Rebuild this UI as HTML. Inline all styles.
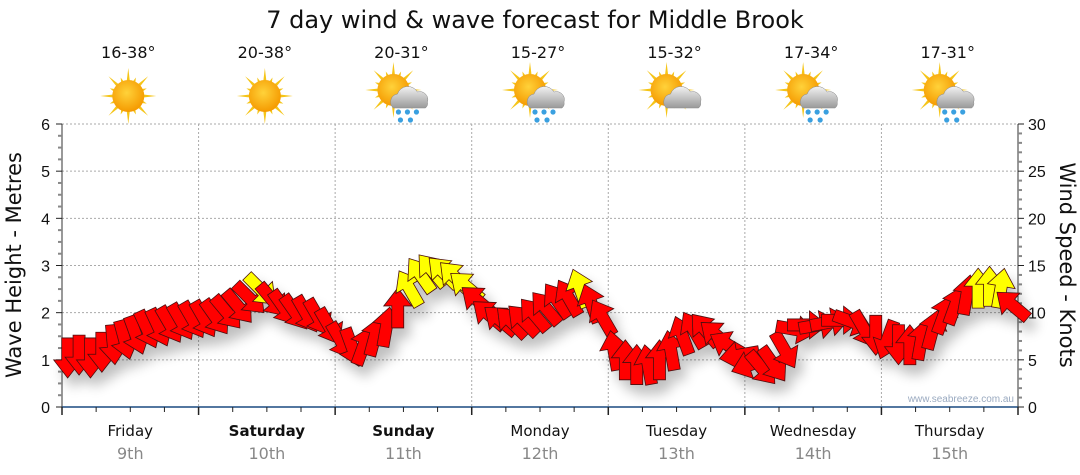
<!DOCTYPE html>
<html><head><meta charset="utf-8"><style>
body{margin:0;background:#fff;}
svg{display:block;font-family:"DejaVu Sans","Liberation Sans",sans-serif;}
</style></head><body>
<svg id="chart" width="1080" height="475" viewBox="0 0 1080 475" xmlns="http://www.w3.org/2000/svg">
<defs>
<filter id="sh" x="-50%" y="-50%" width="200%" height="200%"><feGaussianBlur in="SourceAlpha" stdDeviation="6"/><feOffset dx="6" dy="10"/><feComponentTransfer><feFuncA type="linear" slope="0.25"/></feComponentTransfer><feMerge><feMergeNode/><feMergeNode in="SourceGraphic"/></feMerge></filter>
<radialGradient id="sun" cx="45%" cy="40%" r="60%"><stop offset="0" stop-color="#ffd23a"/><stop offset="1" stop-color="#f59a00"/></radialGradient>
<linearGradient id="cloud" x1="0" y1="0" x2="0" y2="1"><stop offset="0" stop-color="#f2f2f2"/><stop offset="1" stop-color="#9a9a9a"/></linearGradient>
</defs>
<text x="535" y="28" text-anchor="middle" font-size="24" fill="#111">7 day wind &amp; wave forecast for Middle Brook</text>
<g id="grid"></g><g id="axes"></g><g id="icons"></g><g id="marks" filter="url(#sh)"></g>
<text x="1014" y="402" text-anchor="end" font-size="10" fill="#9aaac0" font-family="Liberation Sans,sans-serif">www.seabreeze.com.au</text>
<text transform="translate(21,265) rotate(-90)" text-anchor="middle" font-size="21" fill="#111">Wave Height - Metres</text>
<text transform="translate(1060,265) rotate(90)" text-anchor="middle" font-size="21" fill="#111">Wind Speed - Knots</text>
</svg>
<script>
const days=["Friday","Saturday","Sunday","Monday","Tuesday","Wednesday","Thursday"];
const dates=["9th","10th","11th","12th","13th","14th","15th"];
const boldDays=[false,true,true,false,false,false,false];
const temps=["16-38°","20-38°","20-31°","15-27°","15-32°","17-34°","17-31°"];
const icons=["sun","sun","rain","rain","cloud","rain","rain"];
const leftTicks=[0,1,2,3,4,5,6];
const rightTicks=[0,5,10,15,20,25,30];
const windSpeed=[5.2,5.5,5.2,5.8,6.6,7.1,7.6,8.2,8.4,8.7,9.0,9.2,
9.3,9.5,10,10.6,11.5,12.4,11.3,10.5,10,9.8,9.5,8.5,
7,6.3,6.5,7.5,8.5,10.5,12.6,14,14.5,14.3,13.8,12.8,
11.3,9.8,9.2,9,9.2,9.8,10.5,11.3,11.6,12.6,11,9.5,
6,5,4.5,4.5,5,6,7.6,8.2,8.2,7.6,6.6,5.5,
4.5,4.1,4.5,6,8.2,8.7,8.7,9,9.2,9,8.2,7.6,
7.1,6.6,6.6,7.1,8.2,9.8,10.8,11.9,12.6,12.8,12.6,10.8];
const windDir=[180,180,180,180,175,165,160,155,155,150,150,150,
150,145,140,140,135,135,140,145,145,150,150,150,
150,160,20,15,10,0,-30,-35,-40,-45,-45,-50,
-50,-50,-50,-45,-45,-40,-40,-35,-30,-20,-20,-30,
-10,0,0,-10,0,-10,-20,-30,-40,-50,-60,-100,
-110,140,145,150,100,90,80,80,90,110,150,180,
200,180,0,10,15,20,20,10,0,0,10,-50];
const svg=document.getElementById('chart');
const NS="http://www.w3.org/2000/svg";
const X0=62,X1=1018,Y0=407,Y1=124;
const dayW=(X1-X0)/7;
function yL(v){return Y0-(v/6)*(Y0-Y1);}
function yR(v){return Y0-(v/30)*(Y0-Y1);}
function xI(i){return X0+(i+0.5)*(X1-X0)/windSpeed.length;}
function mk(tag,attrs,parent){const e=document.createElementNS(NS,tag);for(const k in attrs)e.setAttribute(k,attrs[k]);parent.appendChild(e);return e;}
const grid=document.getElementById('grid'),axes=document.getElementById('axes'),ic=document.getElementById('icons'),marks=document.getElementById('marks');
leftTicks.forEach(v=>{if(v>0){const l=mk('line',{x1:X0,x2:X1,y1:yL(v),y2:yL(v),stroke:'#aaa','stroke-dasharray':'2,2'},grid);

}});
for(let d=1;d<7;d++){const l=mk('line',{x1:X0+d*dayW,x2:X0+d*dayW,y1:Y1,y2:Y0,stroke:'#aaa','stroke-dasharray':'2,2'},grid);

}
mk('line',{x1:X0,x2:X0,y1:Y1,y2:Y0,stroke:'#333'},axes);
mk('line',{x1:X1,x2:X1,y1:Y1,y2:Y0,stroke:'#333'},axes);
mk('line',{x1:X0,x2:X1,y1:Y0,y2:Y0,stroke:'#1a4a80','stroke-width':1.5},axes);
for(let k=0;k<=24;k++){const y=yL(k/4);const maj=k%4===0;mk('line',{x1:X0-(maj?6:4),x2:X0,y1:y,y2:y,stroke:maj?'#222':'#888','stroke-width':maj?1:2},axes);}
for(let k=0;k<=30;k++){const y=yR(k);const maj=k%5===0;mk('line',{x1:X1,x2:X1+(maj?6:4),y1:y,y2:y,stroke:maj?'#222':'#888','stroke-width':maj?1:2},axes);}
leftTicks.forEach(v=>{const t=mk('text',{x:50,y:yL(v)+6,'text-anchor':'end','font-size':16,fill:'#111','font-family':'Liberation Sans,sans-serif'},axes);t.textContent=v;

});
rightTicks.forEach(v=>{const t=mk('text',{x:1028,y:yR(v)+6,'font-size':16,fill:'#111','font-family':'Liberation Sans,sans-serif'},axes);t.textContent=v;

});
for(let k=0;k<=28;k++){const x=X0+k*dayW/4;const maj=k%4===0;mk('line',{x1:x,x2:x,y1:Y0,y2:Y0+(maj?8:5),stroke:'#222','stroke-width':maj?1.5:1},axes);}
days.forEach((d,i)=>{const cx=X0+(i+0.5)*dayW;
const t=mk('text',{x:cx,y:436,'text-anchor':'middle','font-size':15,fill:'#111','font-weight':boldDays[i]?'bold':'normal'},axes);t.textContent=d;


const t2=mk('text',{x:cx,y:459,'text-anchor':'middle','font-size':16,fill:'#888'},axes);t2.textContent=dates[i];


const t3=mk('text',{x:cx-2,y:58,'text-anchor':'middle','font-size':16,fill:'#111'},ic);t3.textContent=temps[i];


const g=mk('g',{transform:`translate(${cx-2},96)`},ic);


const sx=icons[i]==='sun'?0:-8,sy=icons[i]==='sun'?0:-6;
for(let r=0;r<16;r++){const a=r*Math.PI/8,L=r%2?20:28;mk('polygon',{points:`${sx+Math.cos(a-0.12)*14},${sy+Math.sin(a-0.12)*14} ${sx+Math.cos(a)*L},${sy+Math.sin(a)*L} ${sx+Math.cos(a+0.12)*14},${sy+Math.sin(a+0.12)*14}`,fill:'#f5c518'},g);}
mk('circle',{cx:sx,cy:sy,r:16,fill:'url(#sun)'},g);
if(icons[i]!=='sun'){mk('path',{d:'M-8,12 a8,8 0 0 1 4,-14 a11,11 0 0 1 20,-2 a8,8 0 0 1 10,10 a6,6 0 0 1 -2,6 z',fill:'url(#cloud)',stroke:'#888','stroke-width':0.5},g);}
if(icons[i]==='rain'){[[-3,16],[6,16],[15,16],[-1,24],[9,24]].forEach(p=>mk('circle',{cx:p[0],cy:p[1],r:2.6,fill:'#3aa0e0'},g));}
});
const arrowPts="0,-20 14,-2 6,-2 6,20 -6,20 -6,-2 -14,-2";
windSpeed.forEach((v,i)=>{const p=mk('polygon',{points:arrowPts,transform:`translate(${xI(i)},${yR(v)}) rotate(${windDir[i]})`,fill:v>=12.3?'#ffff00':'#ff0000',stroke:'#4a1010','stroke-width':0.8},marks);

});
</script>
</body></html>
